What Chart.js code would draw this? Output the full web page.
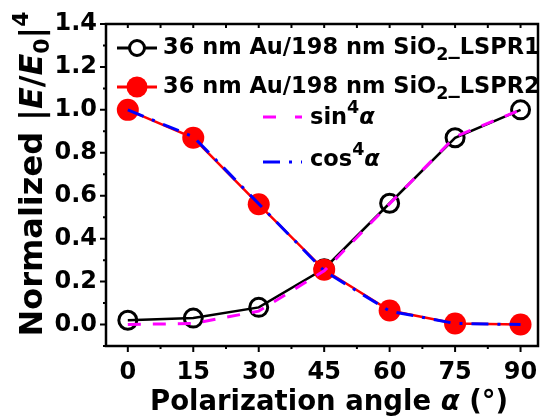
<!DOCTYPE html>
<html>
<head>
<meta charset="utf-8">
<script src="https://cdn.jsdelivr.net/npm/chart.js@4.4.0/dist/chart.umd.min.js"></script>
<style>
  html, body { margin: 0; padding: 0; background: #fff; }
</style>
</head>
<body>
<canvas id="polChart" width="550" height="419"></canvas>
<script>
// angles (deg) and normalized |E/E0|^4
const angles = [0, 15, 30, 45, 60, 75, 90];
const lspr1 = [0.02, 0.03, 0.08, 0.26, 0.565, 0.87, 1.0];
const lspr2 = [1.0, 0.87, 0.56, 0.255, 0.065, 0.005, 0.0];
const sin4 = [0.0, 0.005, 0.0625, 0.25, 0.5625, 0.875, 1.0];
const cos4 = [1.0, 0.875, 0.5625, 0.25, 0.0625, 0.005, 0.0];
const xTicks = [0, 15, 30, 45, 60, 75, 90];
const yTicks = [0, 0.2, 0.4, 0.6, 0.8, 1.0, 1.2, 1.4];
const xMinor = [7.5, 22.5, 37.5, 52.5, 67.5, 82.5];
const yMinor = [-0.1, 0.1, 0.3, 0.5, 0.7, 0.9, 1.1, 1.3];

const FAM = '"DejaVu Sans", "Liberation Sans", Arial, sans-serif';

function pts(ys) {
  return angles.map((a, i) => ({ x: a, y: ys[i] }));
}

// draws a run of text pieces (normal / italic / sub / sup) starting at x
function richText(ctx, x, y, parts, measureOnly) {
  let cx = x;
  for (const p of parts) {
    ctx.font = (p.italic ? 'italic ' : '') + 'bold ' + p.size + 'px ' + FAM;
    if (!measureOnly) ctx.fillText(p.t, cx, y + (p.dy || 0));
    cx += ctx.measureText(p.t).width;
  }
  return cx - x;
}

const decor = {
  id: 'decor',
  afterDraw(chart) {
    const ctx = chart.ctx;
    const a = chart.chartArea;
    const xs = chart.scales.x, ys = chart.scales.y;
    ctx.save();
    ctx.strokeStyle = '#000';
    ctx.fillStyle = '#000';

    // frame
    ctx.lineWidth = 2.5;
    ctx.strokeRect(a.left, a.top, a.right - a.left, a.bottom - a.top);

    // tick marks
    ctx.lineWidth = 2;
    ctx.beginPath();
    xTicks.concat(xMinor).forEach(v => {
      const px = xs.getPixelForValue(v);
      const len = xTicks.includes(v) ? 6 : 3;
      ctx.moveTo(px, a.bottom); ctx.lineTo(px, a.bottom + len);
      ctx.moveTo(px, a.top); ctx.lineTo(px, a.top + 4);
    });
    yTicks.concat(yMinor).forEach(v => {
      const py = ys.getPixelForValue(v);
      const len = yTicks.includes(v) ? 6 : 3;
      ctx.moveTo(a.left, py); ctx.lineTo(a.left - len, py);
    });
    ctx.stroke();

    // legend
    ctx.textAlign = 'left';
    ctx.textBaseline = 'alphabetic';
    ctx.lineWidth = 3;
    ctx.strokeStyle = '#000';
    ctx.beginPath(); ctx.moveTo(117, 48); ctx.lineTo(157, 48); ctx.stroke();
    ctx.lineWidth = 3;
    ctx.fillStyle = '#fff';
    ctx.beginPath(); ctx.arc(137, 48, 7.5, 0, Math.PI * 2); ctx.fill(); ctx.stroke();

    ctx.strokeStyle = '#ff0000'; ctx.fillStyle = '#ff0000'; ctx.lineWidth = 3;
    ctx.beginPath(); ctx.moveTo(117, 87); ctx.lineTo(157, 87); ctx.stroke();
    ctx.beginPath(); ctx.arc(137, 87, 10.5, 0, Math.PI * 2); ctx.fill();

    ctx.strokeStyle = '#ff00ff'; ctx.lineWidth = 3;
    ctx.setLineDash([13, 19]);
    ctx.beginPath(); ctx.moveTo(263, 117); ctx.lineTo(302, 117); ctx.stroke();
    ctx.strokeStyle = '#0000ff';
    ctx.setLineDash([17, 9, 3, 9]);
    ctx.beginPath(); ctx.moveTo(263, 162); ctx.lineTo(302, 162); ctx.stroke();
    ctx.setLineDash([]);

    ctx.fillStyle = '#000';
    richText(ctx, 163, 54, [
      { t: '36 nm Au/198 nm SiO', size: 22.5 },
      { t: '2', size: 17.5, dy: 6 },
      { t: '_LSPR1', size: 22.5 }
    ]);
    richText(ctx, 163, 93, [
      { t: '36 nm Au/198 nm SiO', size: 22.5 },
      { t: '2', size: 17.5, dy: 6 },
      { t: '_LSPR2', size: 22.5 }
    ]);
    richText(ctx, 310, 124, [
      { t: 'sin', size: 22.5 },
      { t: '4', size: 17.5, dy: -11 },
      { t: 'α', size: 22.5, italic: true }
    ]);
    richText(ctx, 310, 166, [
      { t: 'cos', size: 22.5 },
      { t: '4', size: 17.5, dy: -11 },
      { t: 'α', size: 22.5, italic: true }
    ]);

    // x axis title
    const xt = [
      { t: 'Polarization angle ', size: 27.5 },
      { t: 'α', size: 27.5, italic: true },
      { t: ' (°)', size: 27.5 }
    ];
    const xw = richText(ctx, 0, 0, xt, true);
    richText(ctx, 329 - xw / 2, 410, xt);

    // y axis title (rotated)
    const yt = [
      { t: 'Normalized |', size: 32 },
      { t: 'E', size: 32, italic: true },
      { t: '/', size: 32 },
      { t: 'E', size: 32, italic: true },
      { t: '0', size: 22, dy: 7 },
      { t: '|', size: 32 },
      { t: '4', size: 22, dy: -14 }
    ];
    const yw = richText(ctx, 0, 0, yt, true);
    ctx.translate(42, 174);
    ctx.rotate(-Math.PI / 2);
    richText(ctx, -yw / 2, 0, yt);

    ctx.restore();
  }
};

const ctx = document.getElementById('polChart').getContext('2d');
new Chart(ctx, {
  type: 'line',
  data: {
    datasets: [
      {
        label: '36 nm Au/198 nm SiO2_LSPR1',
        data: pts(lspr1),
        borderColor: '#000000',
        backgroundColor: 'rgba(0,0,0,0)',
        borderWidth: 2.5,
        pointRadius: 9,
        pointBorderWidth: 3,
        pointBorderColor: '#000000',
        pointBackgroundColor: 'rgba(255,255,255,0)',
        order: 2
      },
      {
        label: '36 nm Au/198 nm SiO2_LSPR2',
        data: pts(lspr2),
        borderColor: '#ff0000',
        backgroundColor: '#ff0000',
        borderWidth: 2.5,
        pointRadius: 11,
        pointBorderWidth: 0,
        pointBackgroundColor: '#ff0000',
        order: 1
      },
      {
        label: 'sin4α',
        data: pts(sin4),
        borderColor: '#ff00ff',
        borderWidth: 3,
        borderDash: [13, 12],
        pointRadius: 0,
        order: 0
      },
      {
        label: 'cos4α',
        data: pts(cos4),
        borderColor: '#0000ff',
        borderWidth: 3,
        borderDash: [17, 9, 3, 9],
        pointRadius: 0,
        order: 0
      }
    ]
  },
  options: {
    responsive: false,
    animation: false,
    devicePixelRatio: 1,
    layout: { padding: { left: 0, top: 24, right: 5, bottom: 0 } },
    plugins: {
      legend: { display: false },
      tooltip: { enabled: false }
    },
    scales: {
      x: {
        type: 'linear',
        min: -5,
        max: 94,
        afterBuildTicks: s => { s.ticks = xTicks.map(v => ({ value: v })); },
        afterFit: s => { s.height = 73; },
        grid: { display: false, drawTicks: false },
        border: { display: false },
        ticks: {
          color: '#000',
          padding: 12,
          maxRotation: 0,
          autoSkip: false,
          font: { family: FAM, weight: 'bold', size: 24 },
          callback: v => String(v)
        }
      },
      y: {
        min: -0.1,
        max: 1.4,
        afterBuildTicks: s => { s.ticks = yTicks.map(v => ({ value: v })); },
        afterFit: s => { s.width = 106; },
        grid: { display: false, drawTicks: false },
        border: { display: false },
        ticks: {
          color: '#000',
          padding: 9,
          font: { family: FAM, weight: 'bold', size: 24 },
          callback: v => v.toFixed(1)
        }
      }
    }
  },
  plugins: [decor]
});
</script>
</body>
</html>
